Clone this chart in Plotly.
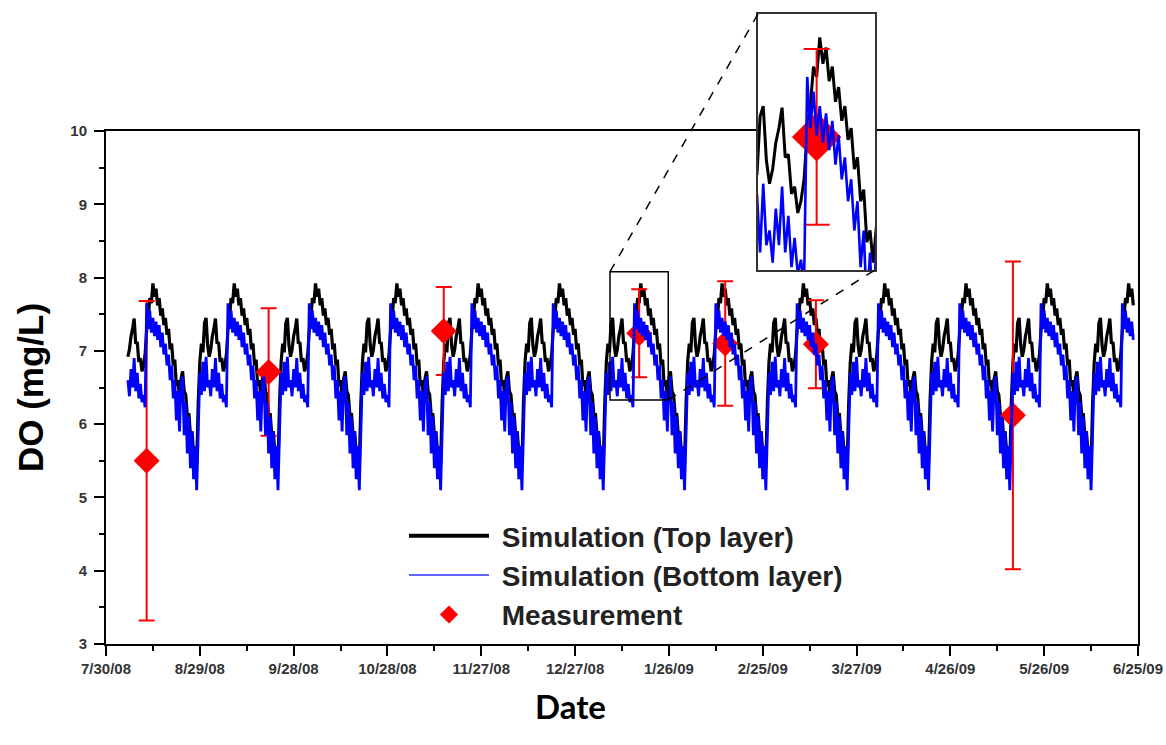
import plotly.graph_objects as go
from datetime import datetime, timedelta

# ---------------- data ----------------
# One 26-day cycle of simulated DO (mg/L), sampled every half day, starting at a peak
cycle_top = [7.92, 7.74, 7.85, 7.62, 7.72, 7.48, 7.58, 7.35, 7.45, 7.22,
             7.30, 7.02, 7.10, 6.80, 6.88, 6.52, 6.60, 6.38, 6.62, 6.72,
             6.45, 6.40, 6.12, 6.15, 5.85, 5.90, 5.62, 5.70, 5.45, 6.30,
             6.85, 7.10, 6.98, 7.38, 7.45, 7.08, 6.92, 7.02, 7.20, 7.30,
             7.44, 7.10, 7.12, 6.85, 6.90, 6.72, 6.80, 6.95, 7.28, 7.45,
             7.72, 7.65]
cycle_bottom = [7.45, 7.20, 7.40, 7.15, 7.35, 7.05, 7.25, 6.95, 7.10, 6.80,
                6.95, 6.60, 6.80, 6.35, 6.60, 6.05, 6.45, 5.90, 6.55, 6.65,
                5.85, 6.30, 5.60, 6.10, 5.40, 5.90, 5.25, 5.70, 5.10, 5.90,
                6.70, 6.40, 6.85, 6.45, 6.92, 6.50, 6.60, 6.38, 6.75, 6.50,
                6.90, 6.45, 6.70, 6.35, 6.55, 6.30, 6.40, 6.23, 7.65, 7.30,
                7.55, 7.25]
cycle_peak_dates = ["2008-08-14", "2008-09-09", "2008-10-05", "2008-10-31",
                    "2008-11-26", "2008-12-22", "2009-01-17", "2009-02-12",
                    "2009-03-10", "2009-04-05", "2009-05-01", "2009-05-27",
                    "2009-06-22"]
sim_start = "2008-08-06"
sim_end = "2009-06-23 12:00"

meas_dates = ["2008-08-12", "2008-09-20", "2008-11-15", "2009-01-16 12:00",
              "2009-02-13", "2009-03-14", "2009-05-16"]
meas_do = [5.50, 6.71, 7.27, 7.24, 7.10, 7.09, 6.12]
meas_err = [2.18, 0.87, 0.60, 0.60, 0.85, 0.60, 2.10]

x_tick_dates = ["2008-07-30", "2008-08-29", "2008-09-28", "2008-10-28",
                "2008-11-27", "2008-12-27", "2009-01-26", "2009-02-25",
                "2009-03-27", "2009-04-26", "2009-05-26", "2009-06-25"]
x_tick_labels = ["7/30/08", "8/29/08", "9/28/08", "10/28/08", "11/27/08",
                 "12/27/08", "1/26/09", "2/25/09", "3/27/09", "4/26/09",
                 "5/26/09", "6/25/09"]

legend_names = ["Simulation (Top layer)", "Simulation (Bottom layer)", "Measurement"]

inset_x_range = ["2009-01-07 04:00", "2009-01-25 19:00"]
inset_y_range = [6.33, 8.08]

# ---------------- build the time series ----------------
fmt = "%Y-%m-%d %H:%M"
def parse(s):
    return datetime.strptime(s if " " in s else s + " 00:00", fmt)

peaks = [parse(p) for p in cycle_peak_dates]
t = parse(sim_start)
t_end = parse(sim_end)
sim_x, sim_top, sim_bot = [], [], []
while t <= t_end:
    prev = [p for p in peaks if p <= t]
    p0 = prev[-1] if prev else peaks[0] - timedelta(days=26)
    idx = min(int(round((t - p0).total_seconds() / 43200)), len(cycle_top) - 1)
    sim_x.append(t)
    sim_top.append(cycle_top[idx])
    sim_bot.append(cycle_bottom[idx])
    t += timedelta(hours=12)

# ---------------- figure ----------------
W, H = 1166, 745
ML, MR, MT, MB = 106, 28, 14, 101
plot_w = W - ML - MR
plot_h = H - MT - MB
main_y_top = (644 - 131) / plot_h
inset_dom_x = [(758 - ML) / plot_w, (875 - ML) / plot_w]
inset_dom_y = [(644 - 270) / plot_h, 1.0]

fig = go.Figure()

for xa, ya, msize, capw, lwk, lwb in (("x", "y", 20, 8, 3.2, 2.8),
                                      ("x2", "y2", 38, 13, 3.0, 2.6)):
    fig.add_trace(go.Scatter(
        x=sim_x, y=sim_top, mode="lines", xaxis=xa, yaxis=ya,
        line=dict(color="black", width=lwk, simplify=False), showlegend=False))
    fig.add_trace(go.Scatter(
        x=meas_dates, y=meas_do, mode="markers", xaxis=xa, yaxis=ya,
        marker=dict(symbol="diamond", size=msize, color="#ff0000"),
        error_y=dict(type="data", array=meas_err, color="#ff0000",
                     thickness=2, width=capw),
        showlegend=False, hoverinfo="x+y"))
    fig.add_trace(go.Scatter(
        x=sim_x, y=sim_bot, mode="lines", xaxis=xa, yaxis=ya,
        line=dict(color="#0000ff", width=lwb, simplify=False), showlegend=False))

# legend entries
pad = "\u00a0"
fig.add_trace(go.Scatter(x=[None], y=[None], mode="lines", name=pad + legend_names[0],
                         line=dict(color="black", width=4)))
fig.add_trace(go.Scatter(x=[None], y=[None], mode="lines", name=pad + legend_names[1],
                         line=dict(color="#3333ff", width=1.5)))
fig.add_trace(go.Scatter(x=[None], y=[None], mode="markers", name=pad + legend_names[2],
                         marker=dict(symbol="diamond", size=14, color="#ff0000")))

tickfont = dict(family="Liberation Sans, Arial, sans-serif", size=15,
                color="#333333", weight="bold")
minor_x = [(parse(d) + timedelta(days=15)).strftime("%Y-%m-%d") for d in x_tick_dates[:-1]]

fig.update_layout(
    width=W, height=H,
    margin=dict(l=ML, r=MR, t=MT, b=MB, autoexpand=False),
    paper_bgcolor="white", plot_bgcolor="white",
    xaxis=dict(
        domain=[0, 1], anchor="y", type="date", automargin=False,
        range=[x_tick_dates[0], x_tick_dates[-1]],
        tickmode="array", tickvals=x_tick_dates, ticktext=x_tick_labels,
        ticks="outside", ticklen=10, tickwidth=2, tickcolor="black",
        minor=dict(tickvals=minor_x, ticks="outside", ticklen=5,
                   tickwidth=2, tickcolor="black"),
        showline=True, linewidth=2, linecolor="black", mirror=True,
        showgrid=False, zeroline=False, tickfont=tickfont,
        ticklabelstandoff=0,
    ),
    yaxis=dict(
        domain=[0, main_y_top], anchor="x", automargin=False,
        range=[3, 10], tickmode="linear", tick0=3, dtick=1,
        ticks="outside", ticklen=10, tickwidth=2, tickcolor="black",
        minor=dict(dtick=0.5, ticks="outside", ticklen=5, tickwidth=2,
                   tickcolor="black"),
        showline=True, linewidth=2, linecolor="black", mirror=True,
        showgrid=False, zeroline=False, tickfont=tickfont,
        ticklabelstandoff=4,
        title=dict(text="DO (mg/L)", standoff=16,
                   font=dict(family="Liberation Sans, Arial, sans-serif",
                             size=35, color="black", weight="bold")),
    ),
    xaxis2=dict(
        domain=inset_dom_x, anchor="y2", type="date", range=inset_x_range,
        automargin=False,
        showticklabels=False, ticks="", showgrid=False, zeroline=False,
        showline=True, linewidth=2, linecolor="#333333", mirror=True,
    ),
    yaxis2=dict(
        domain=inset_dom_y, anchor="x2", range=inset_y_range,
        automargin=False,
        showticklabels=False, ticks="", showgrid=False, zeroline=False,
        showline=True, linewidth=2, linecolor="#333333", mirror=True,
    ),
    legend=dict(
        x=(404 - ML) / plot_w, y=(644 - 511) / plot_h,
        xanchor="left", yanchor="top", bgcolor="rgba(0,0,0,0)",
        itemwidth=80, tracegroupgap=0,
        font=dict(family="Liberation Sans, Arial, sans-serif", size=28,
                  color="#222222", weight="bold"),
    ),
    annotations=[dict(
        text="Date", xref="paper", yref="paper",
        x=(570 - ML) / plot_w, y=-(706 - 644) / plot_h,
        xanchor="center", yanchor="middle", showarrow=False,
        font=dict(family="Lato, Carlito, sans-serif", size=33,
                  color="black", weight="bold"))],
)

# zoom box on the main axes
fig.add_shape(type="rect", xref="x", yref="y",
              x0=inset_x_range[0], x1=inset_x_range[1],
              y0=inset_y_range[0], y1=inset_y_range[1],
              line=dict(color="black", width=1.5))

# dashed connectors (paper coordinates computed from the axis ranges)
xr0, xr1 = parse(x_tick_dates[0]), parse(x_tick_dates[-1])
def px(d):
    return (parse(d) - xr0).total_seconds() / (xr1 - xr0).total_seconds()
def py(v):
    return (v - 3) / 7 * main_y_top
fig.add_shape(type="line", xref="paper", yref="paper",
              x0=px(inset_x_range[0]), y0=py(inset_y_range[1]),
              x1=inset_dom_x[0], y1=inset_dom_y[1],
              line=dict(color="black", width=1.5, dash="dash"))
fig.add_shape(type="line", xref="paper", yref="paper",
              x0=px(inset_x_range[1]), y0=py(inset_y_range[0]),
              x1=inset_dom_x[1], y1=inset_dom_y[0],
              line=dict(color="black", width=1.5, dash="dash"))

fig.write_html("out.html")
